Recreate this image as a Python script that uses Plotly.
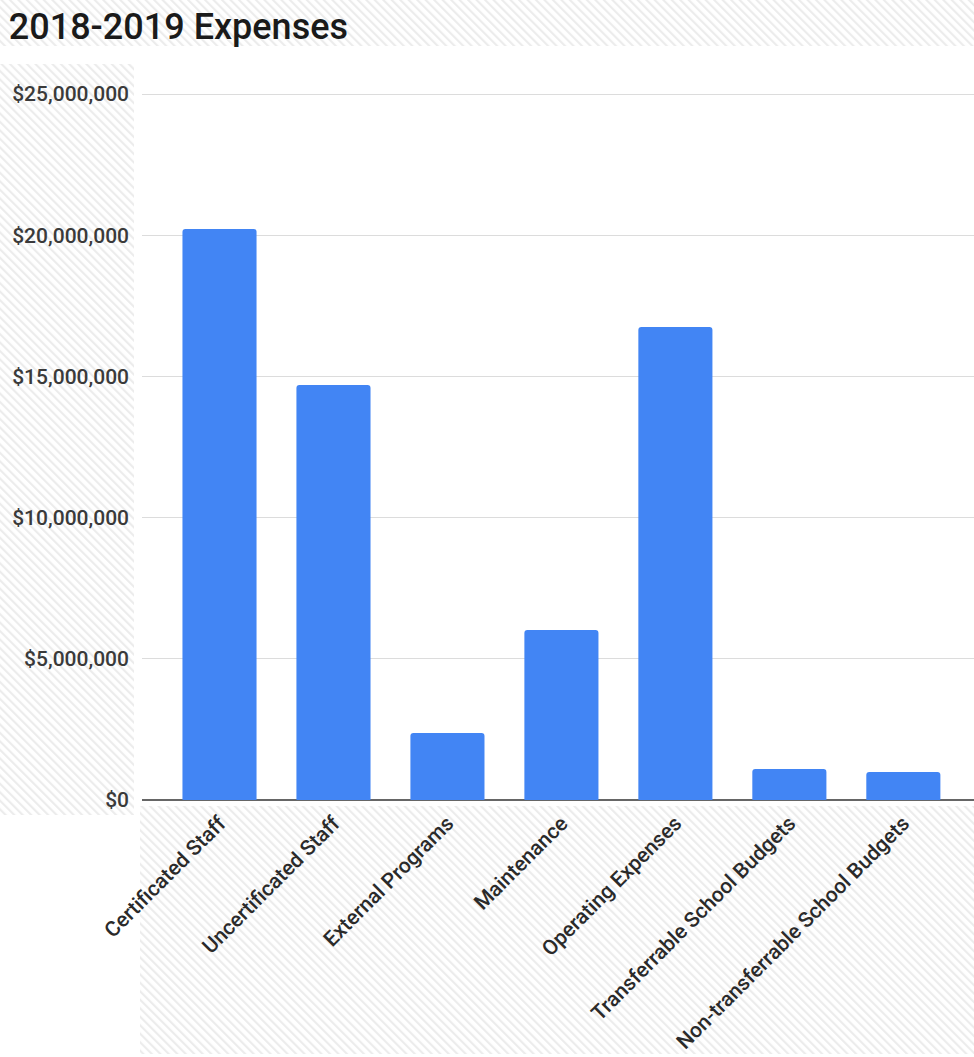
import base64
import plotly.graph_objects as go

categories = ["Certificated Staff", "Uncertificated Staff", "External Programs", "Maintenance",
              "Operating Expenses", "Transferrable School Budgets", "Non-transferrable School Budgets"]
expenses = [20220000, 14700000, 2370000, 6020000, 16750000, 1100000, 990000]
tick_vals = [0, 5000000, 10000000, 15000000, 20000000, 25000000]
tick_text = ["$0", "$5,000,000", "$10,000,000", "$15,000,000", "$20,000,000", "$25,000,000"]

# plot area geometry (pixels)
L, T, W, H = 142, 93, 832, 707
FIG_W, FIG_H = 974, 1057


def hatch(w, h):
    svg = (f"<svg xmlns='http://www.w3.org/2000/svg' width='{w}' height='{h}' "
           f"viewBox='0 0 {w} {h}' preserveAspectRatio='none'>"
           "<defs><pattern id='p' width='6' height='6' patternUnits='userSpaceOnUse' "
           "patternTransform='rotate(-45)'><rect width='2.2' height='6' fill='#ececec'/></pattern></defs>"
           "<rect width='100%' height='100%' fill='url(#p)'/></svg>")
    return "data:image/svg+xml;base64," + base64.b64encode(svg.encode()).decode()


def hatch_img(x0, y0, x1, y1):
    return dict(
        source=hatch(x1 - x0, y1 - y0), xref="paper", yref="paper",
        x=(x0 - L) / W, y=(T + H - y0) / H,
        sizex=(x1 - x0) / W, sizey=(y1 - y0) / H,
        xanchor="left", yanchor="top", sizing="stretch", layer="below",
    )


fig = go.Figure(go.Bar(
    x=categories, y=expenses,
    marker=dict(color="#4285F4", line=dict(width=0), cornerradius=3),
    width=0.65,
))

fig.update_layout(
    width=FIG_W, height=FIG_H,
    margin=dict(l=L, r=FIG_W - L - W, t=T, b=FIG_H - T - H),
    paper_bgcolor="white", plot_bgcolor="rgba(0,0,0,0)",
    font=dict(family="Roboto", color="#333"),
    title=dict(text="2018-2019 Expenses", x=0.009, xanchor="left", y=0.975, yanchor="middle",
               font=dict(family="Roboto", size=36, color="#1a1a1a", weight=500)),
    showlegend=False,
    images=[
        hatch_img(0, 0, 974, 46),
        hatch_img(0, 64, 134, 815),
        hatch_img(140, 806, 974, 1054),
    ],
)
fig.update_xaxes(
    range=[-0.68, 6.62], tickangle=-45, tickfont=dict(size=21, color="#2a2a2a", weight=500),
    showgrid=False, showline=False, ticks="", ticklabelstandoff=6,
)
fig.update_yaxes(
    range=[0, 25040000], tickvals=tick_vals, ticktext=tick_text,
    tickfont=dict(size=21, color="#3a3a3a", weight=500), showgrid=True, gridcolor="#dcdcdc", gridwidth=1,
    zeroline=True, zerolinecolor="#666", zerolinewidth=2, ticks="", ticklabelstandoff=12,
)

fig.write_html("out.html")
